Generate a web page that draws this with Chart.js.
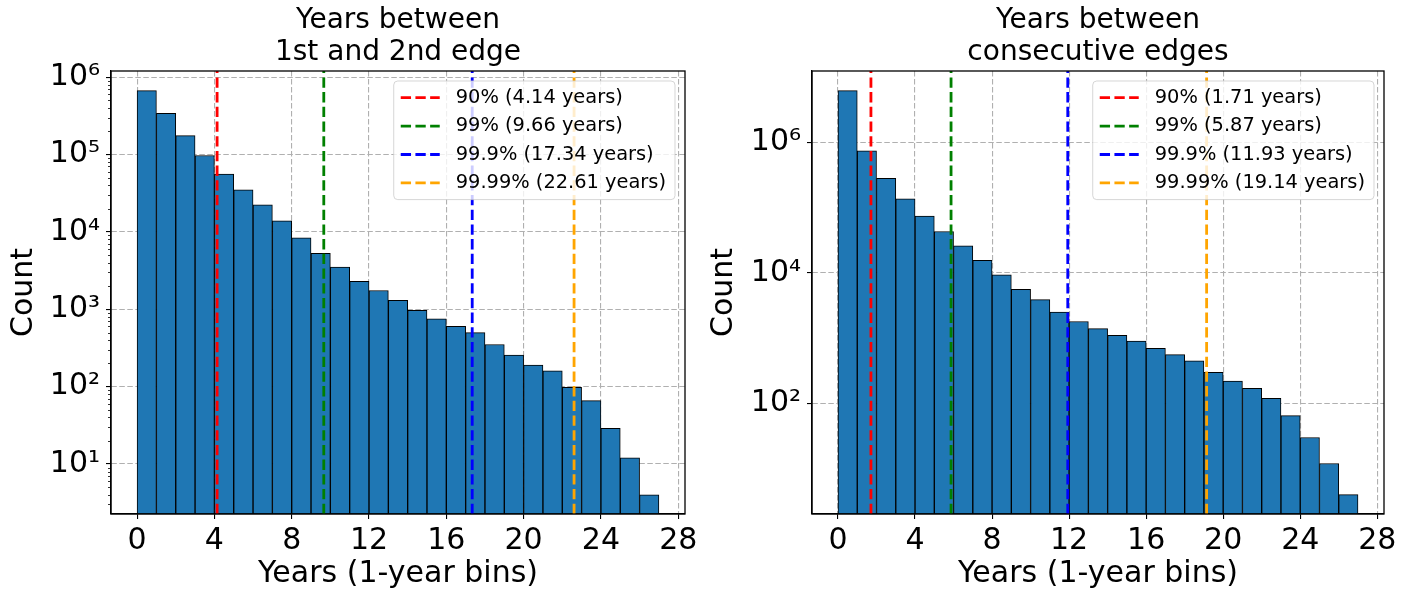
<!DOCTYPE html>
<html>
<head>
<meta charset="utf-8">
<script src="https://cdn.jsdelivr.net/npm/chart.js@4.4.1/dist/chart.umd.min.js"></script>
<style>
  html, body { margin: 0; padding: 0; background: #fff; }
  #wrap { position: relative; width: 1416px; height: 597px; overflow: hidden; }
  .panel { position: absolute; top: 0; width: 708px; height: 597px; }
</style>
</head>
<body>
<div id="wrap">
  <div class="panel" style="left:0"><canvas id="left" width="708" height="597"></canvas></div>
  <div class="panel" style="left:700px"><canvas id="right" width="708" height="597"></canvas></div>
</div>
<script>
/* ---------- data ---------- */

// 1-year histogram bins, left edge of each bin
const binStarts = [0, 1, 2, 3, 4, 5, 6, 7, 8, 9, 10, 11, 12, 13, 14, 15, 16, 17, 18, 19, 20, 21, 22, 23, 24, 25, 26];

// years between 1st and 2nd edge
const firstSecondCounts = [670000, 340000, 175000, 97000, 56000, 35000, 22300, 13900, 8400, 5300, 3500, 2300, 1750, 1300,
  970, 750, 600, 500, 350, 255, 190, 160, 98, 66, 29, 12, 4];

// years between consecutive edges
const consecutiveCounts = [6200000, 740000, 280000, 136000, 74000, 43000, 26000, 15600, 9300, 5600, 3900, 2500, 1800, 1400,
  1100, 900, 700, 560, 450, 300, 220, 170, 120, 65, 30, 12, 4];

const pctLabels = ['90%', '99%', '99.9%', '99.99%'];
const firstSecondPct = [4.14, 9.66, 17.34, 22.61];
const consecutivePct = [1.71, 5.87, 11.93, 19.14];

const xTickValues = [0, 4, 8, 12, 16, 20, 24, 28];
const firstSecondYTicks = [1e1, 1e2, 1e3, 1e4, 1e5, 1e6];
const consecutiveYTicks = [1e2, 1e4, 1e6];

/* ---------- look ---------- */

const FONT = "'DejaVu Sans', sans-serif";
const LINE_COLORS = ['#ff0000', '#008000', '#0000ff', '#ffa500'];
Chart.defaults.font.family = FONT;
Chart.defaults.color = '#000';

const SUP = { '0': '⁰', '1': '¹', '2': '²', '3': '³', '4': '⁴', '5': '⁵', '6': '⁶', '7': '⁷', '8': '⁸', '9': '⁹' };
function sciLabel(v) {
  const e = Math.round(Math.log10(v));
  return '10' + String(e).split('').map(c => SUP[c]).join('');
}

// spines on all four sides + short minor ticks on log axis
const axesFrame = {
  id: 'axesFrame',
  afterDraw(chart, args, opts) {
    const { ctx, chartArea: a } = chart;
    ctx.save();
    ctx.strokeStyle = '#000';
    ctx.lineWidth = 1.3;
    ctx.strokeRect(a.left, a.top, a.right - a.left, a.bottom - a.top);
    if (opts.minorTicks) {
      const ys = chart.scales.y;
      ctx.lineWidth = 0.8;
      ctx.beginPath();
      for (let e = -1; e <= 8; e++) {
        for (let m = 2; m <= 9; m++) {
          const v = m * Math.pow(10, e);
          if (v < ys.min || v > ys.max) continue;
          const py = Math.round(ys.getPixelForValue(v)) + 0.5;
          ctx.moveTo(a.left, py);
          ctx.lineTo(a.left - 3, py);
        }
      }
      ctx.stroke();
    }
    ctx.restore();
  }
};

// matplotlib-like legend box in the upper right of the axes
const pctLegend = {
  id: 'pctLegend',
  afterDraw(chart) {
    const { ctx, chartArea: a } = chart;
    const items = chart.data.datasets.filter(d => d.type === 'line');
    ctx.save();
    ctx.font = `19.4px ${FONT}`;
    const textW = Math.max(...items.map(d => ctx.measureText(d.label).width));
    const rowH = 28.4;
    const w = 7 + 39 + 16 + textW + 9;
    const h = 2 * 16.7 + (items.length - 1) * rowH;
    const x = a.right - 10 - w;
    const y = a.top + 10;
    ctx.beginPath();
    ctx.roundRect(x, y, w, h, 4);
    ctx.fillStyle = 'rgba(255,255,255,0.8)';
    ctx.fill();
    ctx.strokeStyle = 'rgba(204,204,204,0.8)';
    ctx.lineWidth = 1;
    ctx.stroke();
    items.forEach((d, i) => {
      const cy = y + 16.7 + i * rowH;
      ctx.beginPath();
      ctx.setLineDash(d.borderDash);
      ctx.strokeStyle = d.borderColor;
      ctx.lineWidth = d.borderWidth;
      ctx.moveTo(x + 7, cy);
      ctx.lineTo(x + 46, cy);
      ctx.stroke();
      ctx.setLineDash([]);
      ctx.fillStyle = '#000';
      ctx.textBaseline = 'middle';
      ctx.fillText(d.label, x + 62, cy);
    });
    ctx.restore();
  }
};

/* ---------- charts ---------- */

function renderHist(canvasId, cfg) {
  const isDecade = v => Math.abs(Math.log10(v) - Math.round(Math.log10(v))) < 1e-6;

  return new Chart(document.getElementById(canvasId), {
    type: 'bar',
    data: {
      datasets: [
        {
          type: 'bar',
          data: binStarts.map((b, i) => ({ x: b + 0.5, y: cfg.counts[i] })),
          backgroundColor: '#1f77b4',
          borderColor: '#000',
          borderWidth: 1,
          borderSkipped: false,
          barPercentage: 1,
          categoryPercentage: 1,
          order: 2
        },
        ...cfg.pct.map((v, i) => ({
          type: 'line',
          label: `${pctLabels[i]} (${v.toFixed(2)} years)`,
          data: [{ x: v, y: cfg.yMin }, { x: v, y: cfg.yMax }],
          borderColor: LINE_COLORS[i],
          borderWidth: 2.8,
          borderDash: [10.3, 4.4],
          pointRadius: 0,
          fill: false,
          order: 1
        }))
      ]
    },
    options: {
      responsive: false,
      animation: false,
      events: [],
      layout: { padding: { left: 0, right: cfg.padRight, top: 0, bottom: 0 } },
      plugins: {
        legend: { display: false },
        tooltip: { enabled: false },
        title: {
          display: true,
          fullSize: false,
          text: cfg.title,
          color: '#000',
          font: { family: FONT, size: 28, weight: 'normal', lineHeight: 1.125 },
          padding: { top: 5, bottom: 3 }
        },
        axesFrame: { minorTicks: cfg.minorTicks }
      },
      scales: {
        x: {
          type: 'linear',
          min: -1.35,
          max: 28.35,
          offset: false,
          z: 1,
          afterBuildTicks: s => { s.ticks = xTickValues.map(v => ({ value: v })); },
          afterFit: s => { s.height = 83; },
          ticks: {
            color: '#000',
            font: { family: FONT, size: 30 },
            padding: 4,
            maxRotation: 0,
            autoSkip: false,
            callback: v => String(v)
          },
          grid: { offset: false, color: '#b0b0b0', lineWidth: 1.1, tickLength: 5, tickColor: '#000', tickWidth: 1.1 },
          border: { display: true, color: '#000', width: 1.3, dash: [5.5, 2.5] },
          title: {
            display: true,
            text: 'Years (1-year bins)',
            color: '#000',
            font: { family: FONT, size: 30 },
            padding: { top: 0, bottom: 5 }
          }
        },
        y: {
          type: 'logarithmic',
          min: cfg.yMin,
          max: cfg.yMax,
          z: 1,
          afterBuildTicks: s => { s.ticks = cfg.yTicks.map(v => ({ value: v, major: true })); },
          afterFit: s => { s.width = cfg.yWidth; },
          ticks: {
            color: '#000',
            font: { family: FONT, size: 30 },
            padding: 6,
            autoSkip: false,
            callback: v => (isDecade(v) ? sciLabel(v) : '')
          },
          grid: { color: '#b0b0b0', lineWidth: 1.1, tickLength: 5, tickColor: '#000', tickWidth: 1.1 },
          border: { display: true, color: '#000', width: 1.3, dash: [5.5, 2.5] },
          title: {
            display: true,
            text: 'Count',
            color: '#000',
            font: { family: FONT, size: 30 },
            padding: { top: 6, bottom: 0 }
          }
        }
      }
    },
    plugins: [axesFrame, pctLegend]
  });
}

renderHist('left', {
  title: ['Years between', '1st and 2nd edge'],
  counts: firstSecondCounts,
  pct: firstSecondPct,
  yTicks: firstSecondYTicks,
  yMin: 2.26,
  yMax: 1.2e6,
  yWidth: 111,
  padRight: 23,
  minorTicks: true
});

renderHist('right', {
  title: ['Years between', 'consecutive edges'],
  counts: consecutiveCounts,
  pct: consecutivePct,
  yTicks: consecutiveYTicks,
  yMin: 2.02,
  yMax: 1.24e7,
  yWidth: 112,
  padRight: 24,
  minorTicks: false
});
</script>
</body>
</html>
